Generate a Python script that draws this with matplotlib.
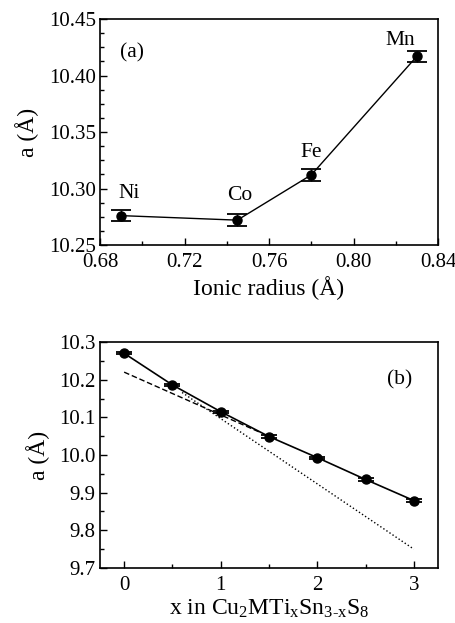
import matplotlib
matplotlib.use("Agg")
import matplotlib.pyplot as plt
from matplotlib.ticker import MultipleLocator, AutoMinorLocator, FormatStrFormatter

plt.rcParams['font.family'] = ['Liberation Serif', 'DejaVu Serif']
plt.rcParams['mathtext.fontset'] = 'custom'
plt.rcParams['mathtext.rm'] = 'Liberation Serif'
plt.rcParams['mathtext.it'] = 'Liberation Serif:italic'

# Panel (a)
elements = ["Ni", "Co", "Fe", "Mn"]
radius = [0.69, 0.745, 0.78, 0.83]
a_vals = [10.276, 10.272, 10.312, 10.417]
a_err = [0.005, 0.005, 0.005, 0.005]
label_pos = [(0.694, 10.296), (0.746, 10.294), (0.780, 10.332), (0.822, 10.431)]

# Panel (b)
x_vals = [0, 0.5, 1.0, 1.5, 2.0, 2.5, 3.0]
b_vals = [10.270, 10.186, 10.115, 10.049, 9.993, 9.935, 9.879]
b_err = [0.003] * 7
dashed_x = [0.0, 1.4]
dashed_y = [10.220, 10.061]
dotted_x = [0.6, 3.0]
dotted_y = [10.166, 9.750]

fig = plt.figure(figsize=(4.55, 6.23), dpi=100)
W, H = 455, 623
ax1 = fig.add_axes([100 / W, 1 - 245 / H, 338 / W, 226 / H])
ax2 = fig.add_axes([100 / W, 1 - 568 / H, 338 / W, 226 / H])

fs = 15
lfs = 17
for ax in (ax1, ax2):
    for s in ax.spines.values():
        s.set_linewidth(1.2)
    ax.tick_params(which='both', direction='in', labelsize=fs, width=1.0)
    ax.tick_params(which='major', length=5)
    ax.tick_params(which='minor', length=3)
    ax.tick_params(axis='x', pad=6)
    ax.tick_params(axis='y', pad=3)

ax1.errorbar(radius, a_vals, yerr=a_err, fmt='-o', color='black', ms=6.5,
             lw=1.0, capsize=7, elinewidth=1.0, capthick=1.3)
for el, (px, py) in zip(elements, label_pos):
    ax1.text(px, py, el, fontsize=fs + 0.5, ha='center', va='center')
ax1.text(0.06, 0.83, "(a)", transform=ax1.transAxes, fontsize=fs + 0.5)
ax1.set_xlim(0.68, 0.84)
ax1.set_ylim(10.25, 10.45)
ax1.xaxis.set_major_locator(MultipleLocator(0.04))
ax1.xaxis.set_minor_locator(AutoMinorLocator(2))
ax1.yaxis.set_major_locator(MultipleLocator(0.05))
ax1.yaxis.set_minor_locator(AutoMinorLocator(4))
ax1.xaxis.set_major_formatter(FormatStrFormatter('%.2f'))
ax1.yaxis.set_major_formatter(FormatStrFormatter('%.2f'))
ax1.set_xlabel("Ionic radius (Å)", fontsize=lfs, labelpad=3)
ax1.set_ylabel("a (Å)", fontsize=lfs, labelpad=7)

ax2.plot(dashed_x, dashed_y, '--', color='black', lw=1.0, dashes=(4, 2))
ax2.plot(dotted_x, dotted_y, ':', color='black', lw=1.0)
ax2.errorbar(x_vals, b_vals, yerr=b_err, fmt='-o', color='black', ms=6.5,
             lw=1.2, capsize=6, elinewidth=1.0, capthick=1.3)
ax2.text(2.85, 10.2, "(b)", fontsize=fs + 0.5, ha='center', va='center')
ax2.set_xlim(-0.25, 3.25)
ax2.set_ylim(9.7, 10.3)
ax2.xaxis.set_major_locator(MultipleLocator(1))
ax2.xaxis.set_minor_locator(AutoMinorLocator(2))
ax2.yaxis.set_major_locator(MultipleLocator(0.1))
ax2.yaxis.set_minor_locator(AutoMinorLocator(2))
ax2.yaxis.set_major_formatter(FormatStrFormatter('%.1f'))
ax2.set_xlabel(r"x in Cu$_\mathrm{2}$MTi$_\mathrm{x}$Sn$_\mathrm{3\text{-}x}$S$_\mathrm{8}$",
               fontsize=lfs, labelpad=2)
ax2.set_ylabel("a (Å)", fontsize=lfs, labelpad=7)

fig.savefig("out.png", dpi=100)
